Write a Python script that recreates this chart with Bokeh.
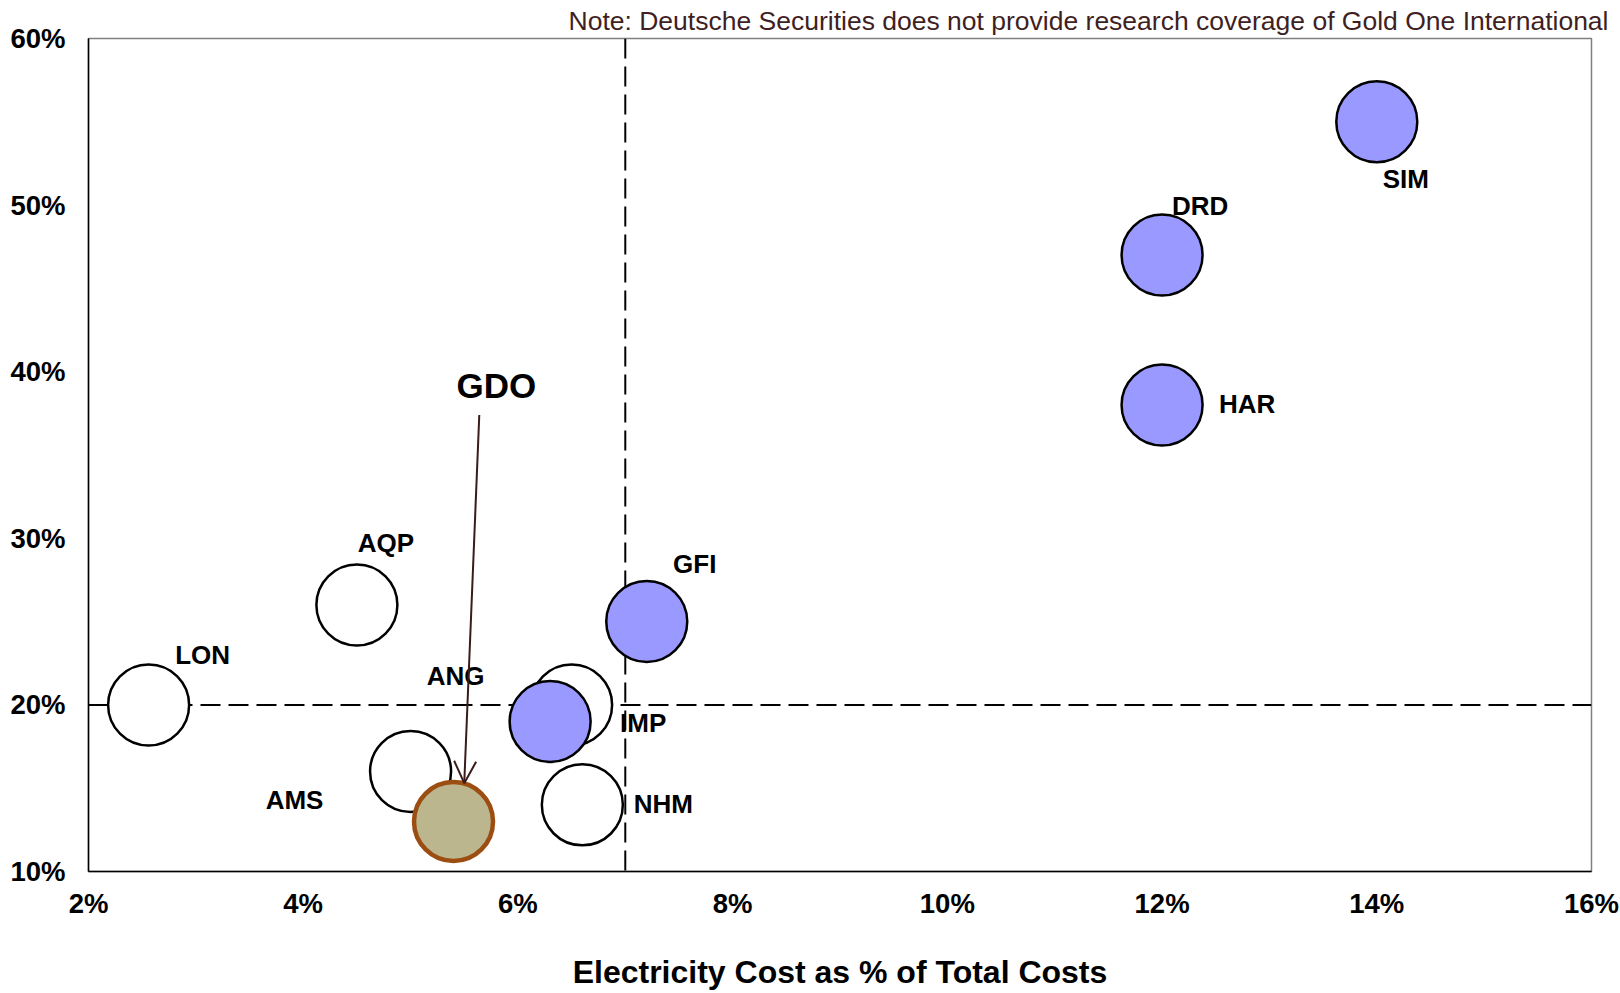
from bokeh.plotting import figure
from bokeh.models import (ColumnDataSource, Range1d, FixedTicker, PrintfTickFormatter,
                          Span, Arrow, OpenHead, Label, Title)
from bokeh.core.properties import value
from bokeh.embed import file_html
from bokeh.resources import INLINE

# ---------------- data ----------------
open_names = ["LON", "AQP", "ANG", "AMS", "NHM"]
open_elec = [2.56, 4.5, 6.5, 5.0, 6.6]
open_yval = [20, 26, 20, 16, 14]

blue_names = ["IMP", "GFI", "DRD", "HAR", "SIM"]
blue_elec = [6.3, 7.2, 12.0, 12.0, 14.0]
blue_yval = [19, 25, 47, 38, 55]

gdo_names = ["GDO"]
gdo_elec = [5.4]
gdo_yval = [13]

x_ticks = [2, 4, 6, 8, 10, 12, 14, 16]
y_ticks = [10, 20, 30, 40, 50, 60]
threshold_x = 7
threshold_y = 20

x_title = "Electricity Cost as % of Total Costs"
note_text = "Note: Deutsche Securities does not provide research coverage of Gold One International"

# label offsets in screen pixels (styling)
label_offsets = {
    "LON": (54, -50), "AQP": (29, -62), "ANG": (-116, -29), "AMS": (-116, 28),
    "NHM": (81, -1), "IMP": (93, 1), "GFI": (48, -58), "DRD": (38, -49),
    "HAR": (85, -1), "SIM": (29, 57),
}

# ---------------- figure ----------------
p = figure(width=1620, height=993, x_range=Range1d(2, 16), y_range=Range1d(10, 60),
           output_backend="svg", toolbar_location=None,
           min_border_left=88, min_border_right=29, min_border_top=38, min_border_bottom=122)
p.background_fill_color = "white"
p.border_fill_color = "white"
p.outline_line_color = "#808080"
p.outline_line_width = 1.5
p.xgrid.visible = False
p.ygrid.visible = False

for ax in (p.xaxis[0], p.yaxis[0]):
    ax.major_tick_line_color = None
    ax.minor_tick_line_color = None
    ax.axis_line_color = "black"
    ax.axis_line_width = 1.5
    ax.major_label_text_font = "Liberation Sans"
    ax.major_label_text_font_style = "bold"
    ax.major_label_text_font_size = "27.5px"
    ax.major_label_text_color = "black"

p.xaxis.ticker = FixedTicker(ticks=x_ticks)
p.yaxis.ticker = FixedTicker(ticks=y_ticks)
p.xaxis.formatter = PrintfTickFormatter(format="%d%%")
p.yaxis.formatter = PrintfTickFormatter(format="%d%%")
p.xaxis.major_label_standoff = 10
p.yaxis.major_label_standoff = 17
p.xaxis.axis_label = x_title
p.xaxis.axis_label_text_font = "Liberation Sans"
p.xaxis.axis_label_text_font_style = "bold"
p.xaxis.axis_label_text_font_size = "32px"
p.xaxis.axis_label_text_color = "black"
p.xaxis.axis_label_standoff = 32

# note above the plot
p.add_layout(Title(text=note_text, align="right", offset=-17, standoff=5,
                   text_font="Liberation Sans", text_font_style="normal",
                   text_font_size="26.5px", text_color="#3F1F1F"), "above")

# threshold lines (under the bubbles)
p.add_layout(Span(location=threshold_x, dimension="height", line_color="black",
                  line_width=2, line_dash="20 8", level="underlay"))
p.add_layout(Span(location=threshold_y, dimension="width", line_color="black",
                  line_width=2, line_dash="20 8", level="underlay"))

# bubbles
src_open = ColumnDataSource(dict(x=open_elec, y=open_yval, name=open_names))
src_blue = ColumnDataSource(dict(x=blue_elec, y=blue_yval, name=blue_names))
src_gdo = ColumnDataSource(dict(x=gdo_elec, y=gdo_yval, name=gdo_names))

p.scatter("x", "y", source=src_open, size=81, fill_color="white",
          line_color="black", line_width=2.5)
p.scatter("x", "y", source=src_blue, size=81, fill_color="#9999FF",
          line_color="black", line_width=2.5)
p.scatter("x", "y", source=src_gdo, size=79, fill_color="#BCB68E",
          line_color="#9C4E12", line_width=4.5)

# company labels
lab_x = open_elec + blue_elec
lab_y = open_yval + blue_yval
lab_n = open_names + blue_names
src_lab = ColumnDataSource(dict(
    x=lab_x, y=lab_y, text=lab_n,
    xo=[label_offsets[n][0] for n in lab_n],
    yo=[label_offsets[n][1] for n in lab_n],
))
p.text("x", "y", text="text", source=src_lab, x_offset="xo", y_offset="yo",
       text_font=value("Liberation Sans"), text_font_style="bold",
       text_font_size="26px", text_color="black",
       text_align="center", text_baseline="middle")

# GDO callout
arrow_start = (5.64, 37.4)
arrow_end = (5.50, 15.3)
p.add_layout(Arrow(x_start=arrow_start[0], y_start=arrow_start[1],
                   x_end=arrow_end[0], y_end=arrow_end[1],
                   line_color="#3B1C1C", line_width=2,
                   end=OpenHead(size=22, line_color="#3B1C1C", line_width=2)))
p.add_layout(Label(x=5.80, y=39.2, text=gdo_names[0], text_font="Liberation Sans",
                   text_font_style="bold", text_font_size="35px", text_color="black",
                   text_align="center", text_baseline="middle"))

open("out.html", "w").write(file_html(p, INLINE))
